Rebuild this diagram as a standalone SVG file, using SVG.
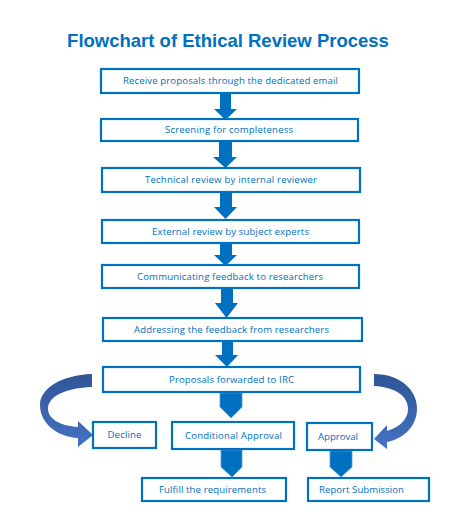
<svg xmlns="http://www.w3.org/2000/svg" width="452" height="512" viewBox="0 0 452 512">
<defs>
<style>
.box{fill:#fff;stroke:#0070C0;stroke-width:2.2}
.t{font-family:"Open Sans","Noto Sans",sans-serif;font-size:9.6px;fill:#0070C0;text-anchor:middle}
.title{font-family:"Liberation Sans",Arial,sans-serif;font-weight:bold;font-size:18.5px;fill:#0070C0;text-anchor:middle}
.arr{fill:#0070C0}
.pent{fill:#0070C0;stroke:#5B9BD5;stroke-width:0.8}
</style>
<linearGradient id="cg" x1="0" y1="0" x2="0" y2="1">
<stop offset="0" stop-color="#2F5597"/>
<stop offset="1" stop-color="#4472C4"/>
</linearGradient>
</defs>
<rect width="452" height="512" fill="#fff"/>
<text class="title" x="228" y="47">Flowchart of Ethical Review Process</text>

<g id="connectors">
<path class="arr" d="M220,93 H231 V109 H237 L225.5,120 L214,109 H220 Z"/>
<path class="arr" d="M219,141 H232 V157 H237 L225.5,168 L213,157 H219 Z"/>
<path class="arr" d="M220,192 H232 V207 H237 L225.5,219 L214,207 H220 Z"/>
<path class="arr" d="M220,243 H232 V255 H237 L225.5,266 L214,255 H220 Z"/>
<path class="arr" d="M221,288 H233 V303 H238 L226.5,318 L215,303 H221 Z"/>
<path class="arr" d="M222,341 H233 V355 H238 L227,367 L215,355 H222 Z"/>
<path class="pent" d="M220,393 H242 V407 L231,418 L220,407 Z"/>
<path class="pent" d="M221,450 H242 V467 L232,477 L221,467 Z"/>
<path class="pent" d="M330,451 H352 V467 L341,477 L330,467 Z"/>
<path fill="url(#cg)" d="M92,374 C62,375 40,388 40,405 C40,424 58,437 78,438 L78,447 L93,435 L78,421 L78,427 C61,426 48,419 48,409 C48,396 66,388 92,387 Z"/>
<path fill="url(#cg)" d="M374,374 C400,374 417,390 417,408 C417,426 405,438 387,442 L387,449 L374,439 L387,425 L387,431 C400,427 408,419 408,409 C408,396 395,387 374,386 Z"/>
</g>

<g id="n1"><rect class="box" x="101" y="69" width="258" height="24"/><text class="t" x="230.5" y="84.3" textLength="215" lengthAdjust="spacing">Receive proposals through the dedicated email</text></g>
<g id="n2"><rect class="box" x="101" y="119" width="257" height="22"/><text class="t" x="229" y="133.3" textLength="128" lengthAdjust="spacing">Screening for completeness</text></g>
<g id="n3"><rect class="box" x="102" y="168" width="258" height="24"/><text class="t" x="231" y="183.3" textLength="172" lengthAdjust="spacing">Technical review by internal reviewer</text></g>
<g id="n4"><rect class="box" x="102" y="220" width="257" height="23"/><text class="t" x="230.5" y="234.8" textLength="157" lengthAdjust="spacing">External review by subject experts</text></g>
<g id="n5"><rect class="box" x="102" y="265" width="257" height="23"/><text class="t" x="230" y="279.8" textLength="186" lengthAdjust="spacing">Communicating feedback to researchers</text></g>
<g id="n6"><rect class="box" x="103" y="318" width="259" height="23"/><text class="t" x="231.5" y="332.8" textLength="195" lengthAdjust="spacing">Addressing the feedback from researchers</text></g>
<g id="n7"><rect class="box" x="103" y="367" width="257" height="25"/><text class="t" x="231.5" y="382.8" textLength="125" lengthAdjust="spacing">Proposals forwarded to IRC</text></g>
<g id="n8"><rect class="box" x="93" y="422" width="63" height="26"/><text class="t" x="124.5" y="438.3" textLength="34" lengthAdjust="spacing">Decline</text></g>
<g id="n9"><rect class="box" x="172" y="422" width="122" height="27"/><text class="t" x="233.5" y="438.8" textLength="97" lengthAdjust="spacing">Conditional Approval</text></g>
<g id="n10"><rect class="box" x="307" y="423" width="65" height="27"/><text class="t" x="338" y="439.8" textLength="40" lengthAdjust="spacing">Approval</text></g>
<g id="n11"><rect class="box" x="142" y="478" width="144" height="23"/><text class="t" x="212.5" y="492.8" textLength="107" lengthAdjust="spacing">Fulfill the requirements</text></g>
<g id="n12"><rect class="box" x="308" y="478" width="121" height="23"/><text class="t" x="361.5" y="492.8" textLength="85" lengthAdjust="spacing">Report Submission</text></g>
</svg>
